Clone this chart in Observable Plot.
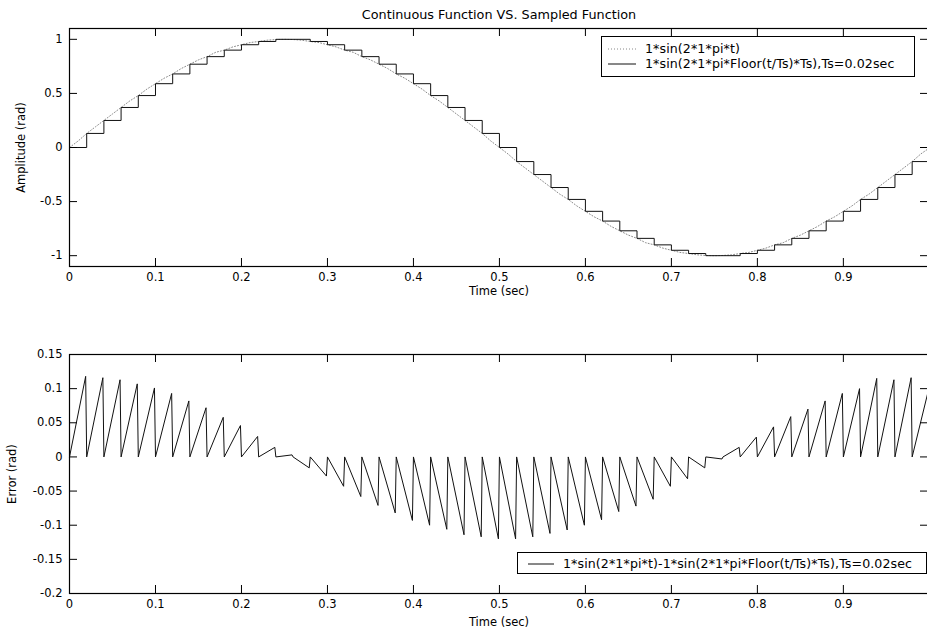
<!DOCTYPE html>
<html>
<head>
<meta charset="utf-8">
<script src="https://cdn.jsdelivr.net/npm/d3@7"></script>
<script src="https://cdn.jsdelivr.net/npm/@observablehq/plot@0.6"></script>
<style>
  html, body { margin: 0; padding: 0; background: #fff; }
  #wrap { position: relative; width: 927px; height: 637px; overflow: hidden; background: #fff; font-family: "DejaVu Sans", sans-serif; color: #000; }
  #top, #bottom { position: absolute; left: 0; width: 930px; }
  #top { top: 0; }
  #bottom { top: 300px; }
  #top svg, #bottom svg { max-width: none !important; }
  .legend { position: absolute; background: #fff; border: 1px solid #000; box-sizing: border-box; font-size: 12.6px; letter-spacing: 0.1px; }
  .row { position: absolute; left: 0; right: 0; height: 15px; display: flex; align-items: center; white-space: nowrap; }
  .row svg { flex: none; }
</style>
</head>
<body>
<div id="wrap">
  <div id="top"></div>
  <div id="bottom"></div>
  <div class="legend" id="legTop" style="left:601px; top:36px; width:314px; height:41px;">
    <div class="row" style="top:4px;"><svg width="43" height="14"><line x1="6" x2="34" y1="7" y2="7" stroke="#888" stroke-width="1" stroke-dasharray="1,2"/></svg><span id="lt1"></span></div>
    <div class="row" style="top:19px;"><svg width="43" height="14"><line x1="6" x2="34" y1="7" y2="7" stroke="#111" stroke-width="1"/></svg><span id="lt2"></span></div>
  </div>
  <div class="legend" id="legBot" style="left:517px; top:552px; width:410px; height:22px;">
    <div class="row" style="top:3px;"><svg width="45" height="14"><line x1="10" x2="36" y1="7" y2="7" stroke="#111" stroke-width="1"/></svg><span id="lb1"></span></div>
  </div>
</div>
<script>
// ---------- data ----------
const titleText = "Continuous Function VS. Sampled Function";
const xLabel = "Time (sec)";
const ampLabel = "Amplitude (rad)";
const errLabel = "Error (rad)";
const legendCont = "1*sin(2*1*pi*t)";
const legendSampled = "1*sin(2*1*pi*Floor(t/Ts)*Ts),Ts=0.02sec";
const legendError = "1*sin(2*1*pi*t)-1*sin(2*1*pi*Floor(t/Ts)*Ts),Ts=0.02sec";

const xTicks = [0, 0.1, 0.2, 0.3, 0.4, 0.5, 0.6, 0.7, 0.8, 0.9];
const ampTicks = [-1, -0.5, 0, 0.5, 1];
const errTicks = [-0.2, -0.15, -0.1, -0.05, 0, 0.05, 0.1, 0.15];

const tEnd = 0.999;

// sample instants (Ts = 0.02 s)
const stepTimes = [0, 0.02, 0.04, 0.06, 0.08, 0.1, 0.12, 0.14, 0.16, 0.18,
  0.2, 0.22, 0.24, 0.26, 0.28, 0.3, 0.32, 0.34, 0.36, 0.38,
  0.4, 0.42, 0.44, 0.46, 0.48, 0.5, 0.52, 0.54, 0.56, 0.58,
  0.6, 0.62, 0.64, 0.66, 0.68, 0.7, 0.72, 0.74, 0.76, 0.78,
  0.8, 0.82, 0.84, 0.86, 0.88, 0.9, 0.92, 0.94, 0.96, 0.98];

// held level of the sampled function on each step
const stepLevels = [0, 0.13, 0.25, 0.37, 0.48, 0.59, 0.68, 0.77, 0.84, 0.9,
  0.95, 0.98, 1.0, 1.0, 0.98, 0.95, 0.9, 0.84, 0.77, 0.68,
  0.59, 0.48, 0.37, 0.25, 0.13, 0, -0.13, -0.25, -0.37, -0.48,
  -0.59, -0.68, -0.77, -0.84, -0.9, -0.95, -0.98, -1.0, -1.0, -0.98,
  -0.95, -0.9, -0.84, -0.77, -0.68, -0.59, -0.48, -0.37, -0.25, -0.13];

// continuous function
const contTimes = [0, 0.01, 0.02, 0.03, 0.04, 0.05, 0.06, 0.07, 0.08, 0.09,
  0.1, 0.11, 0.12, 0.13, 0.14, 0.15, 0.16, 0.17, 0.18, 0.19,
  0.2, 0.21, 0.22, 0.23, 0.24, 0.25, 0.26, 0.27, 0.28, 0.29,
  0.3, 0.31, 0.32, 0.33, 0.34, 0.35, 0.36, 0.37, 0.38, 0.39,
  0.4, 0.41, 0.42, 0.43, 0.44, 0.45, 0.46, 0.47, 0.48, 0.49,
  0.5, 0.51, 0.52, 0.53, 0.54, 0.55, 0.56, 0.57, 0.58, 0.59,
  0.6, 0.61, 0.62, 0.63, 0.64, 0.65, 0.66, 0.67, 0.68, 0.69,
  0.7, 0.71, 0.72, 0.73, 0.74, 0.75, 0.76, 0.77, 0.78, 0.79,
  0.8, 0.81, 0.82, 0.83, 0.84, 0.85, 0.86, 0.87, 0.88, 0.89,
  0.9, 0.91, 0.92, 0.93, 0.94, 0.95, 0.96, 0.97, 0.98, 0.99, 0.999];
const contValues = [0, 0.06, 0.13, 0.19, 0.25, 0.31, 0.37, 0.43, 0.48, 0.54,
  0.59, 0.64, 0.68, 0.73, 0.77, 0.81, 0.84, 0.88, 0.9, 0.93,
  0.95, 0.97, 0.98, 0.992, 0.998, 1.0, 0.998, 0.992, 0.98, 0.97,
  0.95, 0.93, 0.9, 0.88, 0.84, 0.81, 0.77, 0.73, 0.68, 0.64,
  0.59, 0.54, 0.48, 0.43, 0.37, 0.31, 0.25, 0.19, 0.13, 0.06,
  0, -0.06, -0.13, -0.19, -0.25, -0.31, -0.37, -0.43, -0.48, -0.54,
  -0.59, -0.64, -0.68, -0.73, -0.77, -0.81, -0.84, -0.88, -0.9, -0.93,
  -0.95, -0.97, -0.98, -0.992, -0.998, -1.0, -0.998, -0.992, -0.98, -0.97,
  -0.95, -0.93, -0.9, -0.88, -0.84, -0.81, -0.77, -0.73, -0.68, -0.64,
  -0.59, -0.54, -0.48, -0.43, -0.37, -0.31, -0.25, -0.19, -0.13, -0.06, -0.01];

// error at the end of each step (just before the next sample)
const errPeaks = [0.118, 0.116, 0.113, 0.107, 0.101, 0.093, 0.082, 0.072, 0.058, 0.046,
  0.030, 0.014, 0.003, -0.016, -0.028, -0.043, -0.058, -0.071, -0.082, -0.093,
  -0.100, -0.106, -0.114, -0.117, -0.120, -0.120, -0.117, -0.112, -0.107, -0.100,
  -0.092, -0.080, -0.072, -0.062, -0.043, -0.032, -0.016, -0.003, 0.014, 0.029,
  0.044, 0.059, 0.070, 0.082, 0.093, 0.100, 0.115, 0.113, 0.116, 0.098];
// error at the start of each step
const errStarts = [0, 0, 0, 0, 0, 0, 0, 0, 0, 0,
  0, 0, 0, 0, 0, 0, 0, 0, 0, 0,
  0, 0, 0, 0, 0, 0, 0, 0, 0, 0,
  0, 0, 0, 0, 0, 0, 0, 0, 0, 0,
  0, 0, 0, 0, 0, 0, 0, 0, 0, 0];

// ---------- tables built from the arrays ----------
const contTable = contTimes.map((t, i) => ({t, v: contValues[i]}));
const stairTable = stepTimes.map((t, i) => ({t, v: stepLevels[i]}))
  .concat([{t: tEnd, v: stepLevels[stepLevels.length - 1]}]);
const errTable = stepTimes.flatMap((t, k) => {
  const next = k < stepTimes.length - 1 ? stepTimes[k + 1] - 0.0012 : tEnd;
  return [{t, e: errStarts[k]}, {t: next, e: errPeaks[k]}];
});

// ---------- layout ----------
const W = 930, mL = 69, mR = 2;
const fmt = d => String(d);
const font = {fontFamily: "DejaVu Sans, sans-serif", fontSize: "11.5px", color: "#000", background: "transparent", overflow: "visible", maxWidth: "none"};
const TK = 8;

function frameMarks(yTicks, frameH) {
  const frameW = W - mL - mR;
  return [
    Plot.frame({stroke: "#000", strokeWidth: 1.2}),
    Plot.ruleX(xTicks, {insetBottom: frameH - TK, stroke: "#000"}),
    Plot.ruleX(xTicks, {insetTop: frameH - TK, stroke: "#000"}),
    Plot.ruleY(yTicks, {insetRight: frameW - TK, stroke: "#000"}),
    Plot.ruleY(yTicks, {insetLeft: frameW - TK, stroke: "#000"}),
    Plot.axisX(xTicks, {tickSize: 0, tickPadding: 6, tickFormat: fmt, label: null, fill: "#000", fontSize: 11.5}),
    Plot.axisY(yTicks, {tickSize: 0, tickPadding: 7, tickFormat: fmt, label: null, fill: "#000", fontSize: 11.5})
  ];
}

function label(text, opts) {
  return Plot.text([text], {text: d => d, fill: "#000", lineAnchor: "middle", textAnchor: "middle", fontSize: 11.5, ...opts});
}

// top chart
const topH = 300, topMT = 28, topMB = 34;
const topChart = Plot.plot({
  width: W, height: topH,
  marginLeft: mL, marginRight: mR, marginTop: topMT, marginBottom: topMB,
  style: font,
  x: {domain: [0, tEnd]},
  y: {domain: [-1.1, 1.1]},
  marks: [
    Plot.line(contTable, {x: "t", y: "v", stroke: "#8a8a8a", strokeWidth: 1, strokeDasharray: "1,2"}),
    Plot.line(stairTable, {x: "t", y: "v", curve: "step-after", stroke: "#111", strokeWidth: 1}),
    ...frameMarks(ampTicks, topH - topMT - topMB),
    label(titleText, {frameAnchor: "top", dy: -14, fontSize: 12.8, letterSpacing: "0.3px"}),
    label(xLabel, {frameAnchor: "bottom", dy: 25}),
    label(ampLabel, {frameAnchor: "left", dx: -48, rotate: -90})
  ]
});
document.getElementById("top").append(topChart);

// bottom chart
const botH = 337, botMT = 54, botMB = 44;
const botChart = Plot.plot({
  width: W, height: botH,
  marginLeft: mL, marginRight: mR, marginTop: botMT, marginBottom: botMB,
  style: font,
  x: {domain: [0, tEnd]},
  y: {domain: [-0.2, 0.15]},
  marks: [
    Plot.line(errTable, {x: "t", y: "e", stroke: "#111", strokeWidth: 1}),
    ...frameMarks(errTicks, botH - botMT - botMB),
    label(xLabel, {frameAnchor: "bottom", dy: 29}),
    label(errLabel, {frameAnchor: "left", dx: -57, rotate: -90})
  ]
});
document.getElementById("bottom").append(botChart);

document.getElementById("lt1").textContent = legendCont;
document.getElementById("lt2").textContent = legendSampled;
document.getElementById("lb1").textContent = legendError;
</script>
</body>
</html>
